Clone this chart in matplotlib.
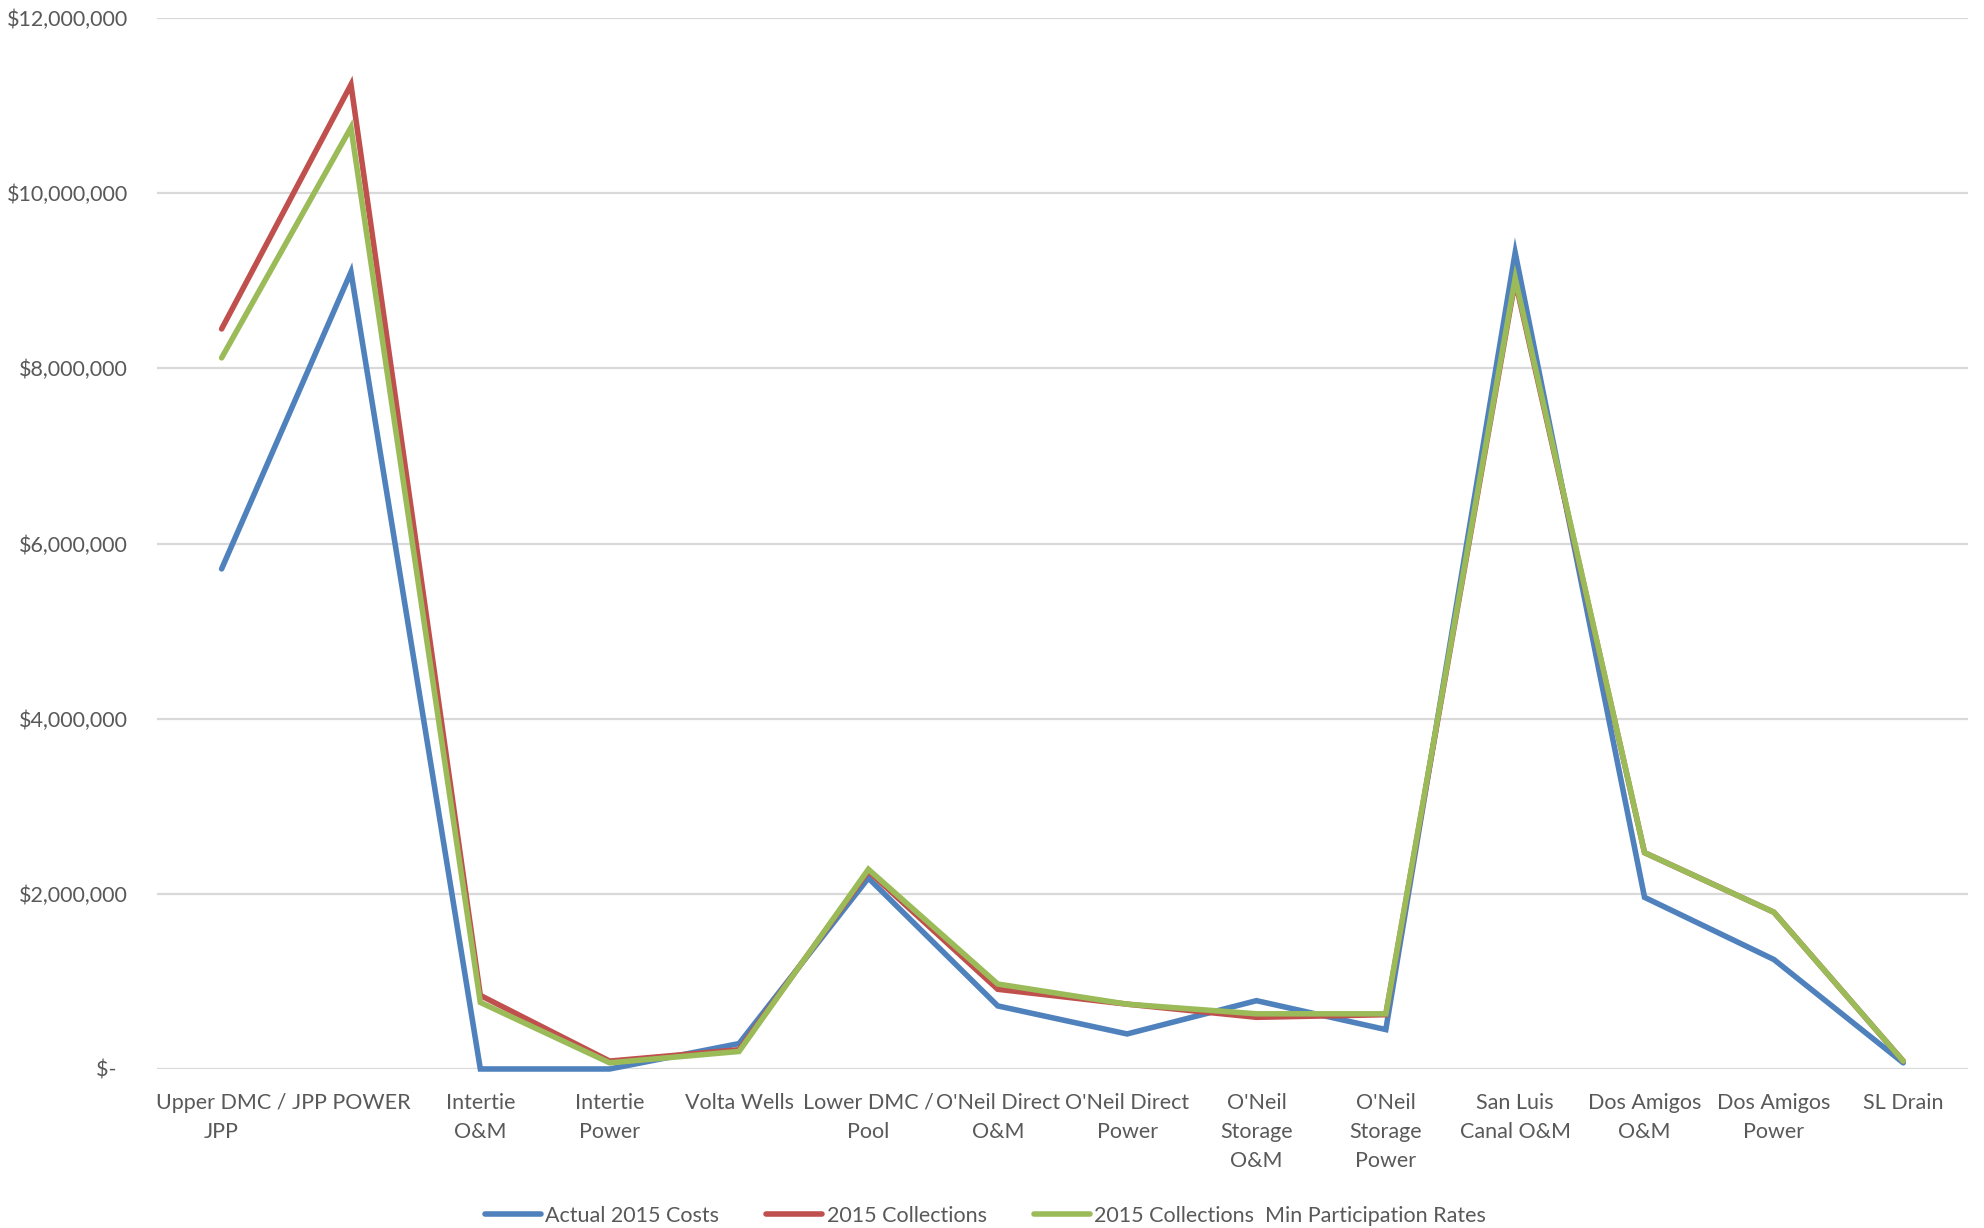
import matplotlib.pyplot as plt
from matplotlib.ticker import FuncFormatter

categories = ["Upper DMC /\nJPP", "JPP POWER", "Intertie\nO&M", "Intertie\nPower",
              "Volta Wells", "Lower DMC /\nPool", "O'Neil Direct\nO&M",
              "O'Neil Direct\nPower", "O'Neil\nStorage\nO&M", "O'Neil\nStorage\nPower",
              "San Luis\nCanal O&M", "Dos Amigos\nO&M", "Dos Amigos\nPower", "SL Drain"]

actual_costs = [5710000, 9100000, 0, 0, 290000, 2180000, 720000, 400000,
                780000, 450000, 9320000, 1960000, 1250000, 70000]
collections = [8450000, 11240000, 840000, 90000, 220000, 2260000, 910000, 740000,
               590000, 620000, 9000000, 2470000, 1790000, 90000]
collections_min = [8120000, 10750000, 760000, 70000, 200000, 2280000, 970000, 740000,
                   630000, 630000, 9030000, 2470000, 1790000, 90000]

series_names = ["Actual 2015 Costs", "2015 Collections",
                "2015 Collections  Min Participation Rates"]
colors = ["#4F81BD", "#C0504D", "#9BBB59"]

plt.rcParams['font.family'] = ['Lato', 'DejaVu Sans']
FS = 15.5

fig = plt.figure(figsize=(19.84, 12.28), dpi=100)
ax = fig.add_axes((0.0791, 0.1295, 0.9128, 0.8558))

x = list(range(len(categories)))
for vals, name, c in zip([actual_costs, collections, collections_min], series_names, colors):
    ax.plot(x, vals, '-', color=c, lw=4.0, label=name, solid_joinstyle='miter',
            solid_capstyle='round', clip_on=False)

ax.set_xlim(-0.5, len(categories) - 0.5)
ax.set_ylim(0, 12000000)
ax.set_yticks(range(0, 12000001, 2000000))


def money(v, pos):
    if v == 0:
        return "$-  "
    return "${:,.0f}".format(v)


ax.yaxis.set_major_formatter(FuncFormatter(money))
ax.set_xticks(x)
ax.set_xticklabels(categories, linespacing=1.57)
ax.tick_params(axis='both', length=0, labelsize=FS, labelcolor='#595959')
ax.tick_params(axis='y', pad=21)
ax.tick_params(axis='x', pad=17)
for s in ax.spines.values():
    s.set_visible(False)
ax.grid(axis='y', color='#D9D9D9', lw=1.6)
ax.set_axisbelow(True)

fig.legend(loc='center', bbox_to_anchor=(0.4967, 0.010), ncol=3, frameon=False,
           fontsize=FS, labelcolor='#595959', handlelength=2.6, handletextpad=0.2,
           columnspacing=2.2, borderpad=0)

fig.savefig('out.png', dpi=100)
